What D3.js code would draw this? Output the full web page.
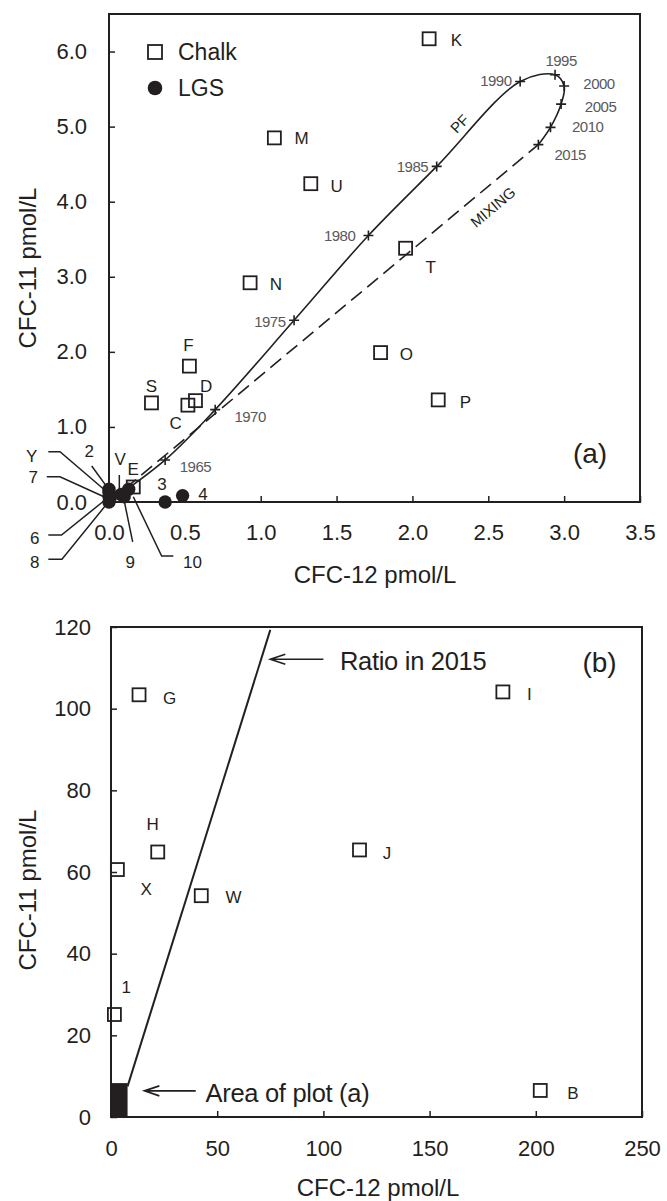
<!DOCTYPE html>
<html>
<head>
<meta charset="utf-8">
<script src="https://cdn.jsdelivr.net/npm/d3@7"></script>
<style>
  body { margin: 0; background: #fff; }
  svg text { font-family: "Liberation Sans", Arial, Helvetica, sans-serif; fill: #231f20; }
</style>
</head>
<body>
<svg id="chart" width="667" height="1201"></svg>
<script>
// ---- panel (a): CFC-12 vs CFC-11, pmol/L ----
const chalkA = [
  { id: "K", x: 2.11, y: 6.17 }, { id: "M", x: 1.09, y: 4.85 }, { id: "U", x: 1.33, y: 4.24 },
  { id: "N", x: 0.93, y: 2.92 }, { id: "T", x: 1.955, y: 3.38 }, { id: "F", x: 0.53, y: 1.81 },
  { id: "S", x: 0.28, y: 1.32 }, { id: "D", x: 0.57, y: 1.35 }, { id: "C", x: 0.52, y: 1.29 },
  { id: "O", x: 1.79, y: 1.99 }, { id: "P", x: 2.17, y: 1.36 }, { id: "E", x: 0.16, y: 0.2 }
];
// label anchors (data units)
const chalkLabelsA = [
  { id: "K", x: 2.29, y: 6.15 }, { id: "M", x: 1.27, y: 4.84 }, { id: "U", x: 1.5, y: 4.2 },
  { id: "N", x: 1.1, y: 2.9 }, { id: "T", x: 2.12, y: 3.13 }, { id: "F", x: 0.524, y: 2.08 },
  { id: "S", x: 0.28, y: 1.54 }, { id: "D", x: 0.64, y: 1.54 }, { id: "C", x: 0.44, y: 1.04 },
  { id: "O", x: 1.96, y: 1.97 }, { id: "P", x: 2.35, y: 1.33 }, { id: "E", x: 0.16, y: 0.43 },
  { id: "3", x: 0.35, y: 0.23 }, { id: "4", x: 0.62, y: 0.1 }
];
const lgsA = [
  { id: "2", x: 0.0, y: 0.17 }, { id: "Y", x: 0.0, y: 0.13 }, { id: "7", x: 0.0, y: 0.07 },
  { id: "6", x: 0.005, y: 0.03 }, { id: "8", x: 0.0, y: 0.0 }, { id: "V", x: 0.08, y: 0.1 },
  { id: "9", x: 0.1, y: 0.07 }, { id: "10", x: 0.13, y: 0.17 }, { id: "3", x: 0.37, y: 0.0 },
  { id: "4", x: 0.485, y: 0.085 }
];
// leader lines for the crowded origin: label position + bent line (data units)
const leadersA = [
  { id: "Y", lx: -0.51, ly: 0.61, pts: [[-0.4, 0.67], [-0.323, 0.67], [-0.015, 0.137]] },
  { id: "7", lx: -0.5, ly: 0.33, pts: [[-0.41, 0.337], [-0.323, 0.337], [-0.026, 0.063]] },
  { id: "6", lx: -0.49, ly: -0.48, pts: [[-0.4, -0.44], [-0.313, -0.44], [-0.026, 0.027]] },
  { id: "8", lx: -0.49, ly: -0.8, pts: [[-0.4, -0.763], [-0.31, -0.763], [-0.015, -0.027]] },
  { id: "2", lx: -0.13, ly: 0.67, pts: [[-0.114, 0.48], [-0.015, 0.204]] },
  { id: "V", lx: 0.073, ly: 0.56, pts: [[0.068, 0.36], [0.068, 0.093]] },
  { id: "9", lx: 0.14, ly: -0.8, pts: [[0.156, -0.53], [0.099, 0.027]] },
  { id: "10", lx: 0.55, ly: -0.8, pts: [[0.424, -0.72], [0.347, -0.72], [0.16, 0.07]] }
];
// piston-flow input curve
const pfYears = [1965, 1970, 1975, 1980, 1985, 1990, 1995, 2000, 2005, 2010, 2015];
const pfCfc12 = [0.37, 0.70, 1.22, 1.71, 2.16, 2.71, 2.94, 3.00, 2.98, 2.91, 2.83];
const pfCfc11 = [0.56, 1.23, 2.42, 3.55, 4.47, 5.60, 5.69, 5.54, 5.30, 4.99, 4.76];
const pfStart = [0.0, 0.0];
const yearLabelX = [0.57, 0.93, 1.06, 1.52, 2.0, 2.55, 2.98, 3.23, 3.24, 3.155, 3.04];
const yearLabelY = [0.47, 1.145, 2.41, 3.55, 4.47, 5.61, 5.88, 5.58, 5.27, 5.0, 4.63];
const mixingLine = [[0, 0], [2.83, 4.76]];
const xTicksA = [0, 0.5, 1, 1.5, 2, 2.5, 3, 3.5];
const yTicksA = [0, 1, 2, 3, 4, 5, 6];

// ---- panel (b) ----
const chalkB = [
  { id: "G", x: 13.2, y: 103.4 }, { id: "I", x: 184.5, y: 104.1 }, { id: "H", x: 22.0, y: 64.9 },
  { id: "J", x: 117.0, y: 65.4 }, { id: "X", x: 3.0, y: 60.6 }, { id: "W", x: 42.5, y: 54.2 },
  { id: "1", x: 1.6, y: 25.1 }, { id: "B", x: 202.1, y: 6.5 }
];
const chalkLabelsB = [
  { id: "G", x: 27.6, y: 102.5 }, { id: "I", x: 197, y: 103.4 }, { id: "H", x: 19.6, y: 71.6 },
  { id: "J", x: 130, y: 64.6 }, { id: "X", x: 16.6, y: 55.6 }, { id: "W", x: 57.7, y: 53.8 },
  { id: "1", x: 7.2, y: 31.8 }, { id: "B", x: 217.5, y: 5.8 }
];
const ratioLine = [[7.8, 7.5], [75, 119.3]];
const areaA = { x0: 0, x1: 7.8, y0: 0, y1: 8.3 };
const xTicksB = [0, 50, 100, 150, 200, 250];
const yTicksB = [0, 20, 40, 60, 80, 100, 120];

const ink = "#231f20", grey = "#58595b";
const svg = d3.select("#chart");
svg.append("rect").attr("width", 667).attr("height", 1201).attr("fill", "#fff");

const xa = d3.scaleLinear().domain([0, 3.5]).range([109, 640]);
const ya = d3.scaleLinear().domain([0, 6.5]).range([502, 14]);
const xb = d3.scaleLinear().domain([0, 250]).range([111, 642]);
const yb = d3.scaleLinear().domain([0, 120]).range([1117, 627]);

const drawFrame = function (x, y, xt, yt, fmt, padX, padY) {
  const g = svg.append("g").attr("color", ink);
  g.append("g").attr("transform", `translate(0,${y.range()[0]})`)
    .call(d3.axisBottom(x).tickValues(xt).tickFormat(fmt).tickSizeInner(-6).tickSizeOuter(0).tickPadding(padX));
  g.append("g").attr("transform", `translate(${x.range()[0]},0)`)
    .call(d3.axisLeft(y).tickValues(yt).tickFormat(fmt).tickSizeInner(-6).tickSizeOuter(0).tickPadding(padY));
  g.selectAll(".domain").remove();
  g.selectAll(".tick line").attr("stroke-width", 1.5);
  g.selectAll("g").attr("font-size", null).attr("font-family", null);
  g.selectAll("text").style("font-size", "22px");
  g.append("rect")
    .attr("x", x.range()[0]).attr("y", y.range()[1])
    .attr("width", x.range()[1] - x.range()[0]).attr("height", y.range()[0] - y.range()[1])
    .attr("fill", "none").attr("stroke", ink).attr("stroke-width", 2);
};

const sq = 13;
const squares = function (data, x, y) {
  svg.append("g").selectAll("rect").data(data).join("rect")
    .attr("x", d => x(d.x) - sq / 2).attr("y", d => y(d.y) - sq / 2)
    .attr("width", sq).attr("height", sq)
    .attr("fill", "none").attr("stroke", ink).attr("stroke-width", 1.8);
};
const labels = function (data, x, y, size) {
  svg.append("g").selectAll("text").data(data).join("text")
    .attr("x", d => x(d.x)).attr("y", d => y(d.y))
    .attr("text-anchor", "middle").attr("dominant-baseline", "central")
    .style("font-size", size + "px").text(d => d.id);
};

// ===== panel (a) =====
drawFrame(xa, ya, xTicksA, yTicksA, d3.format(".1f"), 22, 22);

const pfPts = [pfStart].concat(pfCfc12.map((v, i) => [v, pfCfc11[i]]));
svg.append("path")
  .attr("d", d3.line().x(d => xa(d[0])).y(d => ya(d[1])).curve(d3.curveCatmullRom.alpha(0.5))(pfPts))
  .attr("fill", "none").attr("stroke", ink).attr("stroke-width", 1.6);
svg.append("path")
  .attr("d", d3.line().x(d => xa(d[0])).y(d => ya(d[1]))(mixingLine))
  .attr("fill", "none").attr("stroke", ink).attr("stroke-width", 1.6).attr("stroke-dasharray", "14,7");

svg.append("g").selectAll("path").data(pfYears).join("path")
  .attr("transform", (d, i) => `translate(${xa(pfCfc12[i])},${ya(pfCfc11[i])})`)
  .attr("d", "M-5,0H5M0,-5V5").attr("stroke", ink).attr("stroke-width", 1.6);
svg.append("g").selectAll("text").data(pfYears).join("text")
  .attr("x", (d, i) => xa(yearLabelX[i])).attr("y", (d, i) => ya(yearLabelY[i]))
  .attr("text-anchor", "middle").attr("dominant-baseline", "central")
  .style("font-size", "15px").style("fill", grey).style("letter-spacing", "-0.5px").text(d => d);

svg.append("text").attr("transform", `translate(${xa(2.31)},${ya(5.04)}) rotate(-46)`)
  .attr("text-anchor", "middle").attr("dominant-baseline", "central").style("font-size", "15px").text("PF");
svg.append("text").attr("transform", `translate(${xa(2.53)},${ya(3.93)}) rotate(-40)`)
  .attr("text-anchor", "middle").attr("dominant-baseline", "central").style("font-size", "15px").text("MIXING");

// leaders
const lg = svg.append("g");
leadersA.forEach(l => {
  const pts = l.pts.map(p => [xa(p[0]), ya(p[1])]);
  lg.append("path").attr("d", d3.line()(pts)).attr("fill", "none").attr("stroke", ink).attr("stroke-width", 1.5);
  lg.append("text").attr("x", xa(l.lx)).attr("y", ya(l.ly))
    .attr("text-anchor", "middle").attr("dominant-baseline", "central").style("font-size", "17px").text(l.id);
});

svg.append("g").selectAll("circle").data(lgsA).join("circle")
  .attr("cx", d => xa(d.x)).attr("cy", d => ya(d.y)).attr("r", 6.7).attr("fill", ink);
squares(chalkA, xa, ya);
labels(chalkLabelsA, xa, ya, 17);

// legend
const leg = svg.append("g").attr("transform", `translate(${xa(0) + 46},${ya(6.5) + 38})`);
leg.append("rect").attr("x", -7).attr("y", -7).attr("width", 14).attr("height", 14)
  .attr("fill", "none").attr("stroke", ink).attr("stroke-width", 1.8);
leg.append("circle").attr("cx", 0).attr("cy", 36).attr("r", 7.3).attr("fill", ink);
leg.append("text").attr("x", 23).attr("y", 0).attr("dominant-baseline", "central").style("font-size", "23px").text("Chalk");
leg.append("text").attr("x", 23).attr("y", 36).attr("dominant-baseline", "central").style("font-size", "23px").text("LGS");

svg.append("text").attr("x", 590).attr("y", 453).attr("text-anchor", "middle").attr("dominant-baseline", "central")
  .style("font-size", "28px").text("(a)");
svg.append("text").attr("x", 375).attr("y", 574).attr("text-anchor", "middle").attr("dominant-baseline", "central")
  .style("font-size", "24px").text("CFC-12 pmol/L");
svg.append("text").attr("transform", "translate(27,268) rotate(-90)").attr("text-anchor", "middle")
  .attr("dominant-baseline", "central").style("font-size", "24px").text("CFC-11 pmol/L");

// ===== panel (b) =====
drawFrame(xb, yb, xTicksB, yTicksB, d3.format("d"), 23, 20);

svg.append("rect")
  .attr("x", xb(areaA.x0)).attr("y", yb(areaA.y1))
  .attr("width", xb(areaA.x1) - xb(areaA.x0)).attr("height", yb(areaA.y0) - yb(areaA.y1))
  .attr("fill", ink);
svg.append("path")
  .attr("d", d3.line().x(d => xb(d[0])).y(d => yb(d[1]))(ratioLine))
  .attr("fill", "none").attr("stroke", ink).attr("stroke-width", 2);

squares(chalkB, xb, yb);
labels(chalkLabelsB, xb, yb, 17);

const arrow = function (x0, x1, y, text, tx) {
  const g = svg.append("g");
  g.append("path")
    .attr("d", `M${xb(x0)},${yb(y)}H${xb(x1)}M${xb(x1) + 15},${yb(y) - 5}L${xb(x1)},${yb(y)}L${xb(x1) + 15},${yb(y) + 5}`)
    .attr("fill", "none").attr("stroke", ink).attr("stroke-width", 1.6);
  g.append("text").attr("x", xb(tx)).attr("y", yb(y) + 2).attr("dominant-baseline", "central")
    .style("font-size", "25.5px").style("letter-spacing", "-0.3px").text(text);
};
arrow(100, 75, 112.1, "Ratio in 2015", 107.8);
arrow(39.9, 15.7, 6.4, "Area of plot (a)", 44.5);

svg.append("text").attr("x", xb(230)).attr("y", yb(111.4)).attr("text-anchor", "middle").attr("dominant-baseline", "central")
  .style("font-size", "28px").text("(b)");
svg.append("text").attr("x", 378).attr("y", 1187).attr("text-anchor", "middle").attr("dominant-baseline", "central")
  .style("font-size", "24px").text("CFC-12 pmol/L");
svg.append("text").attr("transform", "translate(27,890) rotate(-90)").attr("text-anchor", "middle")
  .attr("dominant-baseline", "central").style("font-size", "24px").text("CFC-11 pmol/L");
</script>
</body>
</html>
